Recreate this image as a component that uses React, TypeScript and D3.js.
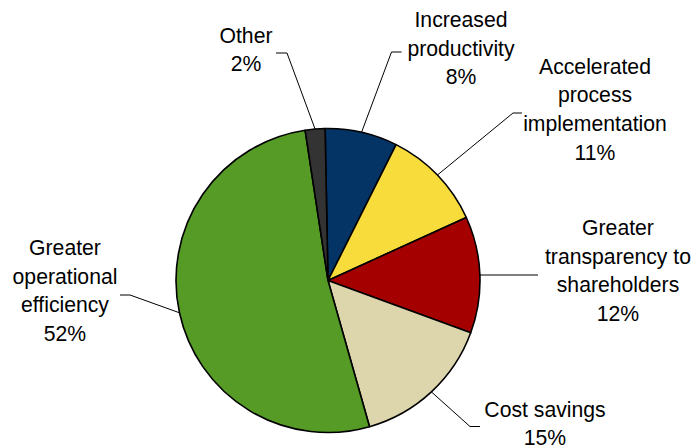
import React from "react";
import * as d3 from "d3";

const categories = [
  "Increased productivity",
  "Accelerated process implementation",
  "Greater transparency to shareholders",
  "Cost savings",
  "Greater operational efficiency",
  "Other",
];
const values = [7.7, 10.8, 12.4, 15.0, 52.0, 2.1];
const labelLines = [
  ["Increased", "productivity", "8%"],
  ["Accelerated", "process", "implementation", "11%"],
  ["Greater", "transparency to", "shareholders", "12%"],
  ["Cost savings", "15%"],
  ["Greater", "operational", "efficiency", "52%"],
  ["Other", "2%"],
];
const colors = ["#033465", "#f8dc3c", "#a50000", "#ddd6ad", "#559b25", "#333333"];

// layout: label block center x, first baseline y, leader elbow point, horizontal end x
const layout = [
  { x: 461, y: 27, ex: 391.5, ey: 52, hx: 401.5 },
  { x: 595, y: 73.5, ex: 513, ey: 113, hx: 522 },
  { x: 618, y: 235, ex: 480, ey: 275, hx: 538 },
  { x: 545, y: 416.5, ex: 470, ey: 426.5, hx: 480 },
  { x: 65, y: 255, ex: 130, ey: 295, hx: 120 },
  { x: 246, y: 42.5, ex: 287, ey: 53, hx: 276 },
];

const W = 696;
const H = 448;
const cx = 328;
const cy = 280.5;
const R = 152;
const lineH = 28.7;
const start = (-1.1 * Math.PI) / 180;

export default function App() {
  const data = categories.map((c, i) => ({ c, v: values[i], i }));
  const pie = d3
    .pie<{ c: string; v: number; i: number }>()
    .value((d) => d.v)
    .sort(null)
    .startAngle(start)
    .endAngle(start + 2 * Math.PI);
  const arcs = pie(data);
  const arcGen = d3.arc<d3.PieArcDatum<{ c: string; v: number; i: number }>>().innerRadius(0).outerRadius(R);

  return (
    <svg
      width={W}
      height={H}
      style={{ position: "absolute", left: 0, top: 0, background: "#fff" }}
      fontFamily="'Liberation Sans', Arial, sans-serif"
    >
      <g transform={`translate(${cx},${cy})`}>
        {arcs.map((a, i) => (
          <path key={i} d={arcGen(a) || ""} fill={colors[i]} stroke="#000" strokeWidth={1.6} strokeLinejoin="round" />
        ))}
      </g>
      {arcs.map((a, i) => {
        const mid = (a.startAngle + a.endAngle) / 2;
        const sx = cx + R * Math.sin(mid);
        const sy = cy - R * Math.cos(mid);
        const L = layout[i];
        return (
          <polyline
            key={"l" + i}
            points={`${sx},${sy} ${L.ex},${L.ey} ${L.hx},${L.ey}`}
            fill="none"
            stroke="#000"
            strokeWidth={1}
          />
        );
      })}
      {labelLines.map((lines, i) => (
        <text key={"t" + i} textAnchor="middle" fontSize={21.2} fill="#000">
          {lines.map((ln, j) => (
            <tspan key={j} x={layout[i].x} y={layout[i].y + j * lineH}>
              {ln}
            </tspan>
          ))}
        </text>
      ))}
    </svg>
  );
}
